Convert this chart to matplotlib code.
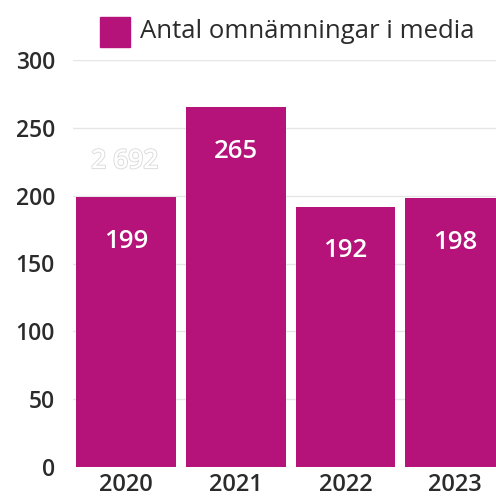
import matplotlib
matplotlib.use('Agg')
import matplotlib.pyplot as plt
import matplotlib.patheffects as pe
from matplotlib.patches import Rectangle

# data
years = ['2020', '2021', '2022', '2023']
mentions = [199, 265, 192, 198]
legend_label = 'Antal omnämningar i media'
y_ticks = [0, 50, 100, 150, 200, 250, 300]

bar_color = '#b5137a'
text_color = '#2b2b2b'

plt.rcParams['font.family'] = ['Open Sans', 'DejaVu Sans']

fig = plt.figure(figsize=(4.96, 5.0), dpi=100)
ax = fig.add_axes([73 / 496, 1 - 467 / 500, 1 - 73 / 496, (467 - 60) / 500])

x = list(range(len(years)))
bars = ax.bar(x, mentions, width=100 / 110, color=bar_color, zorder=2)

for xi, v in zip(x, mentions):
    ax.annotate(str(v), (xi, v), xytext=(0, -32), textcoords='offset points',
                ha='center', va='center', color='white', fontsize=18.5,
                fontweight='semibold', zorder=3)

# faded ghost label left over in the original image
ax.text(-0.01, 225, '2 692', ha='center', va='center', color='white',
        fontsize=19, fontweight='semibold', zorder=1,
        path_effects=[pe.withStroke(linewidth=1.2, foreground='#d8d8d8')])

ax.set_xlim(-0.48, 3.37)
ax.set_ylim(0, 300)
ax.set_yticks(y_ticks)
ax.set_xticks(x)
ax.set_xticklabels(years)
ax.grid(axis='y', color='#e6e6e6', linewidth=1, zorder=0)
ax.set_axisbelow(True)
for s in ax.spines.values():
    s.set_visible(False)
ax.tick_params(axis='both', length=0, labelcolor=text_color)
ax.tick_params(axis='y', pad=13, labelsize=16.5)
ax.tick_params(axis='x', pad=4, labelsize=17)
for lab in ax.get_xticklabels() + ax.get_yticklabels():
    lab.set_fontweight('semibold')

# legend drawn in figure coordinates
fig.patches.append(Rectangle((100 / 496, 1 - 47 / 500), 30 / 496, 30 / 500,
                             transform=fig.transFigure, color=bar_color))
fig.text(140 / 496, 1 - 32 / 500, legend_label, ha='left', va='center',
         fontsize=18.5, color=text_color, fontweight='medium')

fig.savefig('out.png', dpi=100)
